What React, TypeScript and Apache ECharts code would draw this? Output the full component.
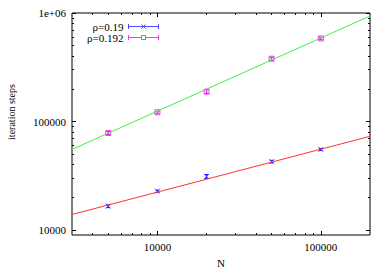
import React, { useEffect, useRef } from "react";
import * as echarts from "echarts";

// ---- data ----
const nValues = [5000, 10000, 20000, 50000, 100000];
const steps019 = [16600, 22800, 31200, 42700, 55300];
const err019 = [500, 550, 1300, 1200, 1100];
const steps0192 = [78300, 121600, 188700, 379000, 583000];
const err0192 = [2400, 2500, 7000, 11000, 15000];
const fitX = [3000, 200000];
const fit019 = [13900, 73100];
const fit0192 = [55300, 939000];

const xMajorTicks = [10000, 100000];
const xMinorTicks = [4000, 5000, 6000, 7000, 8000, 9000, 20000, 30000, 40000, 50000, 60000, 70000, 80000, 90000];
const yMajorTicks = [10000, 100000, 1000000];
const yMinorTicks = [20000, 30000, 40000, 50000, 60000, 70000, 80000, 90000, 200000, 300000, 400000, 500000, 600000, 700000, 800000, 900000];
const xRange = [3000, 200000];
const yRange = [9000, 1000000];
const xTitle = "N";
const yTitle = "iteration steps";

const BLUE = "#2222ff";
const MAGENTA = "#ff00ff";
const RED = "#ff3333";
const GREEN = "#44ee44";
const FONT = "Liberation Serif";

const lg = (v: number) => Math.log10(v);
const fmt = (v: number) => {
  const val = Math.round(Math.pow(10, v));
  return val >= 1000000 ? "1e+0" + Math.round(v) : String(val);
};

function tickAxis(dim: "x" | "y", position: string, ticks: number[], len: number, labels: boolean, extra: any = {}) {
  const range = dim === "x" ? xRange : yRange;
  const vals = ticks.map(lg);
  return {
    type: "value",
    position,
    min: lg(range[0]),
    max: lg(range[1]),
    axisLine: { show: false, onZero: false },
    splitLine: { show: false },
    axisTick: { show: true, inside: true, length: len, customValues: vals, lineStyle: { color: "#000", width: 1 } },
    axisLabel: labels
      ? { show: true, customValues: vals, formatter: fmt, color: "#000", fontFamily: FONT, fontSize: 11, margin: 6 }
      : { show: false },
    ...extra,
  };
}

function errorBars(x: number[], y: number[], e: number[]) {
  return x.map((xv, i) => [xv, y[i], e[i]]);
}

function renderErr(color: string) {
  return (params: any, api: any) => {
    const x = api.value(0);
    const y = api.value(1);
    const e = api.value(2);
    const lo = api.coord([x, y - e]);
    const hi = api.coord([x, y + e]);
    const st = { stroke: color, lineWidth: 1 };
    return {
      type: "group",
      children: [
        { type: "line", shape: { x1: lo[0], y1: lo[1], x2: hi[0], y2: hi[1] }, style: st },
        { type: "line", shape: { x1: lo[0] - 2, y1: lo[1], x2: lo[0] + 2, y2: lo[1] }, style: st },
        { type: "line", shape: { x1: hi[0] - 2, y1: hi[1], x2: hi[0] + 2, y2: hi[1] }, style: st },
      ],
    };
  };
}

export default function App() {
  const ref = useRef<HTMLDivElement>(null);
  useEffect(() => {
    if (!ref.current) return;
    const chart = echarts.init(ref.current, null, { renderer: "svg" });
    const option: any = {
      animation: false,
      backgroundColor: "#fff",
      grid: { left: 72, right: 20, top: 13, bottom: 35, show: true, borderColor: "#000", borderWidth: 1, backgroundColor: "transparent" },
      graphic: [
        {
          type: "text",
          x: 11,
          y: 112,
          rotation: Math.PI / 2,
          style: { text: yTitle, fontFamily: FONT, fontSize: 10, fill: "#000", align: "center", verticalAlign: "middle" },
        },
      ],
      legend: {
        orient: "vertical",
        align: "right",
        right: 229,
        top: 21,
        padding: 0,
        itemWidth: 30,
        itemHeight: 5,
        itemGap: 0,
        textStyle: { fontFamily: FONT, fontSize: 11, color: "#000", lineHeight: 11 },
        data: [
          {
            name: "ρ=0.19",
            icon: "path://M0,2.5L30,2.5M0,0L0,5M30,0L30,5M13,0.5L17,4.5M17,0.5L13,4.5",
            itemStyle: { color: "none", borderColor: BLUE, borderWidth: 1 },
          },
          {
            name: "ρ=0.192",
            icon: "path://M0,2.5L13,2.5M17,2.5L30,2.5M0,0L0,5M30,0L30,5M13,0.5L17,0.5M17,0.5L17,4.5M17,4.5L13,4.5M13,4.5L13,0.5",
            itemStyle: { color: "none", borderColor: MAGENTA, borderWidth: 1 },
          },
        ],
        selectedMode: false,
      },
      xAxis: [
        { type: "log", min: xRange[0], max: xRange[1], show: false, logBase: 10 },
        tickAxis("x", "bottom", xMajorTicks, 4, true, {
          name: xTitle,
          nameLocation: "middle",
          nameGap: 22,
          nameTextStyle: { fontFamily: FONT, fontSize: 11, color: "#000" },
        }),
        tickAxis("x", "bottom", xMinorTicks, 2, false),
        tickAxis("x", "top", xMajorTicks, 4, false),
        tickAxis("x", "top", xMinorTicks, 2, false),
      ],
      yAxis: [
        { type: "log", min: yRange[0], max: yRange[1], show: false, logBase: 10 },
        tickAxis("y", "left", yMajorTicks, 4, true),
        tickAxis("y", "left", yMinorTicks, 2, false),
        tickAxis("y", "right", yMajorTicks, 4, false),
        tickAxis("y", "right", yMinorTicks, 2, false),
      ],
      series: [
        {
          name: "fit ρ=0.19",
          type: "line",
          xAxisIndex: 0,
          yAxisIndex: 0,
          data: fitX.map((x, i) => [x, fit019[i]]),
          symbol: "none",
          lineStyle: { color: RED, width: 1 },
          itemStyle: { color: RED },
          silent: true,
        },
        {
          name: "fit ρ=0.192",
          type: "line",
          xAxisIndex: 0,
          yAxisIndex: 0,
          data: fitX.map((x, i) => [x, fit0192[i]]),
          symbol: "none",
          lineStyle: { color: GREEN, width: 1 },
          itemStyle: { color: GREEN },
          silent: true,
        },
        {
          name: "ρ=0.19",
          type: "scatter",
          xAxisIndex: 0,
          yAxisIndex: 0,
          data: nValues.map((x, i) => [x, steps019[i]]),
          symbol: "path://M0,0L5,5M5,0L0,5",
          symbolSize: 5,
          itemStyle: { color: "rgba(0,0,0,0)", borderColor: BLUE, borderWidth: 1 },
        },
        {
          name: "ρ=0.19",
          type: "custom",
          xAxisIndex: 0,
          yAxisIndex: 0,
          data: errorBars(nValues, steps019, err019),
          renderItem: renderErr(BLUE),
          encode: { x: 0, y: [1] },
          itemStyle: { color: BLUE },
        },
        {
          name: "ρ=0.192",
          type: "scatter",
          xAxisIndex: 0,
          yAxisIndex: 0,
          data: nValues.map((x, i) => [x, steps0192[i]]),
          symbol: "path://M0,0L5,0L5,5L0,5Z",
          symbolSize: 5,
          itemStyle: { color: "rgba(0,0,0,0)", borderColor: MAGENTA, borderWidth: 1 },
        },
        {
          name: "ρ=0.192",
          type: "custom",
          xAxisIndex: 0,
          yAxisIndex: 0,
          data: errorBars(nValues, steps0192, err0192),
          renderItem: renderErr(MAGENTA),
          encode: { x: 0, y: [1] },
          itemStyle: { color: MAGENTA },
        },
      ],
    };
    chart.setOption(option);
    return () => chart.dispose();
  }, []);
  return <div ref={ref} style={{ position: "absolute", left: 0, top: 0, width: 390, height: 273 }} />;
}
